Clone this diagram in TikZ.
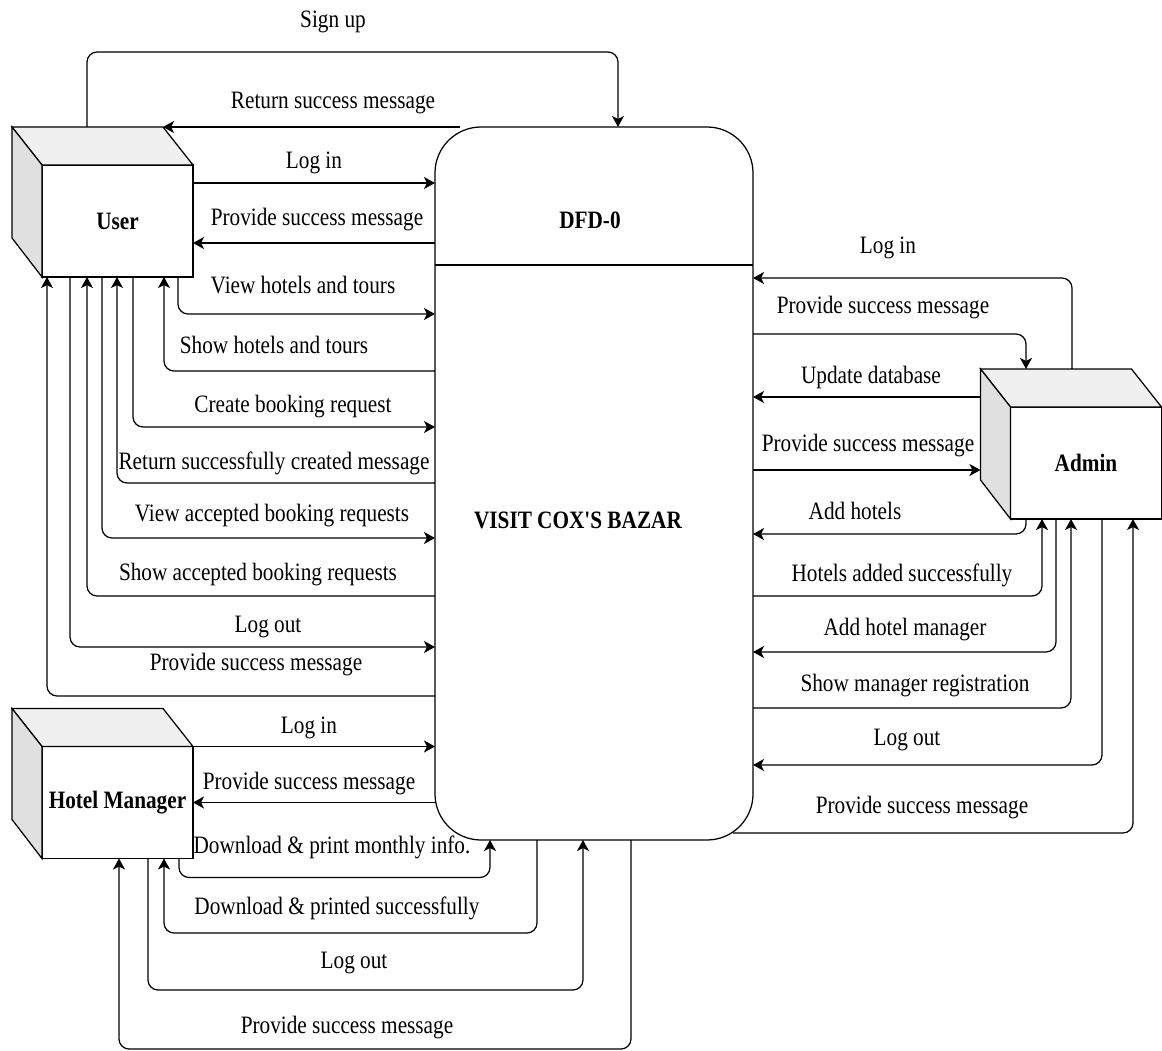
\documentclass[tikz,border=0pt]{standalone}
\usepackage{fontspec}
\setmainfont{Liberation Serif}[FakeStretch=0.85]
\newfontfamily\straightfont{Liberation Serif}[FakeStretch=0.85]
\usepackage{tikz}
\usetikzlibrary{arrows.meta,calc}
\definecolor{cubetop}{HTML}{F0F0F0}
\definecolor{cubeside}{HTML}{E0E0E0}
\newcommand\dfdfont{\fontsize{25}{29}\selectfont}

% back faces of an entity box (top and left)
\newcommand\cubeback[1]{%
	\filldraw[fill=cubetop] (#1.north west) -- ++(-30pt,38pt) -- ++(151pt,0pt) -- (#1.north east) -- cycle;
	\filldraw[fill=cubeside] (#1.north west) -- ++(-30pt,38pt) -- ++(0pt,-111pt) -- (#1.south west) -- cycle;
}

\begin{document}
\begin{tikzpicture}[x=1pt, y=-1pt, line width=1.25pt, font=\dfdfont,
	ent/.style={draw, fill=white, minimum width=151pt, minimum height=112pt,
		inner sep=0pt, outer sep=0pt, font=\dfdfont\bfseries},
	flow/.style={-{Stealth[length=11pt, width=12pt, inset=3pt]}, rounded corners=10pt},
	lbl/.style={inner sep=0pt}]

	\useasboundingbox (0,0) rectangle (1162,1051);

	% process
	\node[draw, rounded corners=46pt, minimum width=318pt, minimum height=713pt, outer sep=0pt] (dfd) at (594,483.5) {};
	\draw (dfd.west |- 0,265) -- (dfd.east |- 0,265);
	\node[font=\dfdfont\bfseries] (dfdtitle) at (590,220) {DFD-0};
	\node[font=\dfdfont\straightfont\bfseries] (dfdname) at (578,520) {VISIT COX'S BAZAR};

	% entities
	\node[ent] (user) at (117.5,221) {User};
	\cubeback{user}
	\node[ent] (admin) at (1086,463) {Admin};
	\cubeback{admin}
	\node[ent] (hmgr) at (117.5,802.5) {Hotel Manager};
	\cubeback{hmgr}
	\coordinate (adminback) at ([xshift=-30pt]admin.west);

	% user flows
	\draw[flow] ([xshift=45pt,yshift=38pt]user.north west) -- ++(0,-75) -| ([xshift=24pt]dfd.north)
		node[lbl] (usignup) at (333,22) {Sign up};
	\draw[flow] ([xshift=25pt]dfd.north west) -- ([xshift=-30pt,yshift=38pt]user.north east)
		node[lbl] (usignupok) at (333,103) {Return success message};
	\draw[flow] (user.east |- 0,183) -- (dfd.west |- 0,183)
		node[lbl] (ulogin) at (314,163) {Log in};
	\draw[flow] (dfd.west |- 0,243) -- (user.east |- 0,243)
		node[lbl] (uloginok) at (317,220) {Provide success message};
	\draw[flow] ([xshift=136pt]user.south west) |- (dfd.west |- 0,314)
		node[lbl] (uview) at (303,285) {View hotels and tours};
	\draw[flow] (dfd.west |- 0,371) -| ([xshift=122pt]user.south west)
		node[lbl] (ushow) at (274,345) {Show hotels and tours};
	\draw[flow] ([xshift=91pt]user.south west) |- (dfd.west |- 0,427)
		node[lbl] (ubook) at (293,407) {Create booking request};
	\draw[flow] (dfd.west |- 0,483) -| ([xshift=75pt]user.south west)
		node[lbl] (ubookok) at (274,463) {Return successfully created message};
	\draw[flow] ([xshift=60pt]user.south west) |- (dfd.west |- 0,538)
		node[lbl] (uaccept) at (272,516) {View accepted booking requests};
	\draw[flow] (dfd.west |- 0,596) -| ([xshift=45pt]user.south west)
		node[lbl] (uacceptok) at (258,575) {Show accepted booking requests};
	\draw[flow] ([xshift=28pt]user.south west) |- (dfd.west |- 0,647)
		node[lbl] (ulogout) at (268,627) {Log out};
	\draw[flow] (dfd.west |- 0,696) -| ([xshift=5pt]user.south west)
		node[lbl] (ulogoutok) at (256,665) {Provide success message};

	% admin flows
	\draw[flow] ([xshift=61.5pt,yshift=38pt]admin.north west) |- (dfd.east |- 0,278)
		node[lbl] (alogin) at (888,248) {Log in};
	\draw[flow] (dfd.east |- 0,334) -| ([xshift=15.5pt,yshift=38pt]admin.north west)
		node[lbl] (aloginok) at (883,308) {Provide success message};
	\draw[flow] (adminback |- 0,397) -- (dfd.east |- 0,397)
		node[lbl] (aupdate) at (871,377) {Update database};
	\draw[flow] (dfd.east |- 0,470) -- (adminback |- 0,470)
		node[lbl] (aupdateok) at (868,446) {Provide success message};
	\draw[flow] ([xshift=15.5pt]admin.south west) |- (dfd.east |- 0,534)
		node[lbl] (ahotel) at (855,511) {Add hotels};
	\draw[flow] (dfd.east |- 0,596) -| ([xshift=31.5pt]admin.south west)
		node[lbl] (ahotelok) at (902,575) {Hotels added successfully};
	\draw[flow] ([xshift=45.5pt]admin.south west) |- (dfd.east |- 0,652)
		node[lbl] (amgr) at (905,630) {Add hotel manager};
	\draw[flow] (dfd.east |- 0,708) -| ([xshift=60.5pt]admin.south west)
		node[lbl] (amgrok) at (915,686) {Show manager registration};
	\draw[flow] ([xshift=91.5pt]admin.south west) |- (dfd.east |- 0,765)
		node[lbl] (alogout) at (907,740) {Log out};
	\draw[flow] ([xshift=-20pt,yshift=7pt]dfd.south east) -| ([xshift=122.5pt]admin.south west)
		node[lbl] (alogoutok) at (922,808) {Provide success message};

	% hotel manager flows
	\draw[flow] (hmgr.north east) -- (dfd.west |- hmgr.north east)
		node[lbl] (hlogin) at (309,728) {Log in};
	\draw[flow] (dfd.west |- hmgr.east) -- (hmgr.east)
		node[lbl] (hloginok) at (309,784) {Provide success message};
	\draw[flow] ([xshift=137pt]hmgr.south west) -- ++(0,19) -| ([xshift=-104pt]dfd.south)
		node[lbl] (hprint) at (332,847) {Download \& print monthly info.};
	\draw[flow] ([xshift=-57pt]dfd.south) -- ++(0,93) -| ([xshift=122pt]hmgr.south west)
		node[lbl] (hprintok) at (337,908) {Download \& printed successfully};
	\draw[flow] ([xshift=106pt]hmgr.south west) -- ++(0,131.5) -| ([xshift=-11pt]dfd.south)
		node[lbl] (hlogout) at (354,963) {Log out};
	\draw[flow] ([xshift=37pt]dfd.south) -- ++(0,209) -| ([xshift=77pt]hmgr.south west)
		node[lbl] (hlogoutok) at (347,1028) {Provide success message};

\end{tikzpicture}
\end{document}
